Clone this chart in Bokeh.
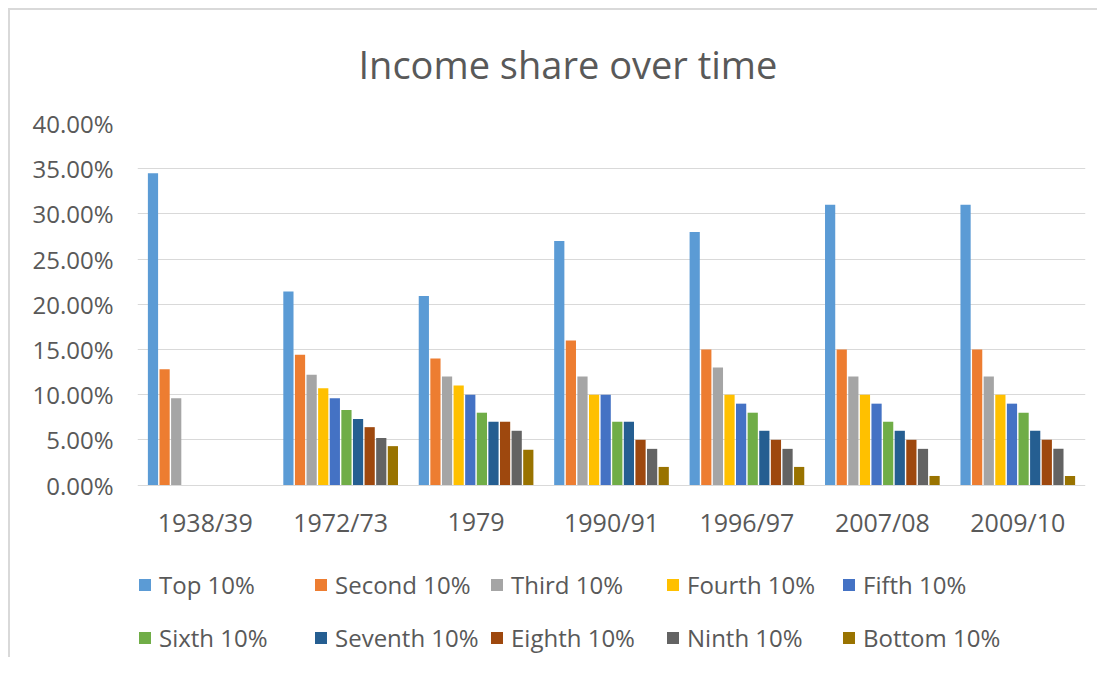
import math
from bokeh.plotting import figure
from bokeh.models import (FactorRange, Range1d, ColumnDataSource, NumeralTickFormatter,
                          FixedTicker, Legend, LegendItem, Title)
from bokeh.core.properties import value
from bokeh.transform import dodge
from bokeh.embed import file_html
from bokeh.resources import INLINE

# ---- data (percent of income) ----
periods = ["1938/39", "1972/73", "1979", "1990/91", "1996/97", "2007/08", "2009/10"]
series_names = ["Top 10%", "Second 10%", "Third 10%", "Fourth 10%", "Fifth 10%",
                "Sixth 10%", "Seventh 10%", "Eighth 10%", "Ninth 10%", "Bottom 10%"]
top_10     = [34.5, 21.4, 20.9, 27.0, 28.0, 31.0, 31.0]
second_10  = [12.8, 14.4, 14.0, 16.0, 15.0, 15.0, 15.0]
third_10   = [9.6, 12.2, 12.0, 12.0, 13.0, 12.0, 12.0]
fourth_10  = [None, 10.7, 11.0, 10.0, 10.0, 10.0, 10.0]
fifth_10   = [None, 9.6, 10.0, 10.0, 9.0, 9.0, 9.0]
sixth_10   = [None, 8.3, 8.0, 7.0, 8.0, 7.0, 8.0]
seventh_10 = [None, 7.3, 7.0, 7.0, 6.0, 6.0, 6.0]
eighth_10  = [None, 6.4, 7.0, 5.0, 5.0, 5.0, 5.0]
ninth_10   = [None, 5.2, 6.0, 4.0, 4.0, 4.0, 4.0]
bottom_10  = [None, 4.3, 3.9, 2.0, 2.0, 1.0, 1.0]
y_ticks = [0.0, 0.05, 0.10, 0.15, 0.20, 0.25, 0.30, 0.35, 0.40]

colors = ["#5B9BD5", "#ED7D31", "#A5A5A5", "#FFC000", "#4472C4",
          "#70AD47", "#255E91", "#9E480E", "#636363", "#997300"]

all_series = [top_10, second_10, third_10, fourth_10, fifth_10,
              sixth_10, seventh_10, eighth_10, ninth_10, bottom_10]

data = {"period": periods}
keys = []
for i, s in enumerate(all_series):
    k = "s%d" % i
    keys.append(k)
    data[k] = [float("nan") if v is None else v / 100.0 for v in s]
src = ColumnDataSource(data)

FONT = "Open Sans"
TXT = "#595959"

# layout (pixels): value axis spans 361.5 px for 0..40 %, frame extends below
# the zero line to hold category labels and the legend rows
Y_MAX = 0.40
AXIS_PX = 361.5
BELOW_PX = 172.5
ppu = AXIS_PX / Y_MAX
y_start = -BELOW_PX / ppu
label_y = -36.5 / ppu

p = figure(x_range=FactorRange(factors=periods), y_range=Range1d(y_start, Y_MAX),
           frame_width=948, frame_height=int(AXIS_PX + BELOW_PX),
           output_backend="svg", toolbar_location=None, x_axis_location=None,
           min_border_left=137, min_border_right=12, min_border_top=123,
           min_border_bottom=0)
p.styles = {"box-shadow": "inset 8px 8px 0 0 #ffffff, inset 10px 10px 0 0 #d9d9d9"}
p.border_fill_alpha = 0
p.background_fill_alpha = 0
p.outline_line_color = None

slot = 0.0857
bar_w = slot * 0.88
renderers = []
for i, k in enumerate(keys):
    off = (i - 4.5) * slot
    r = p.vbar(x=dodge("period", off, range=p.x_range), top=k, bottom=0, width=bar_w,
               source=src, fill_color=colors[i], line_color=None)
    renderers.append(r)

# category labels, drawn under each group
lab_src = ColumnDataSource(dict(period=periods, y=[label_y] * len(periods)))
p.text(x="period", y="y", text="period", source=lab_src,
       text_font=value(FONT), text_font_size="25px", text_color=TXT,
       text_align="center", text_baseline="middle")

p.add_layout(Title(text="Income share over time", text_font=FONT,
                   text_font_size="38px", text_font_style="normal",
                   text_color=TXT, align="left", offset=221, standoff=67), "above")

p.yaxis.ticker = FixedTicker(ticks=y_ticks)
p.yaxis.formatter = NumeralTickFormatter(format="0.00%")
ax = p.yaxis[0]
ax.axis_line_color = None
ax.major_tick_line_color = None
ax.minor_tick_line_color = None
ax.major_label_text_font = FONT
ax.major_label_text_color = TXT
ax.major_label_text_font_size = "24px"
ax.major_label_standoff = 18
p.xgrid.grid_line_color = None
p.ygrid.grid_line_color = "#d9d9d9"
p.ygrid.grid_line_width = 1

# two legend rows (5 entries each), bottoms measured up from the frame bottom
legend_rows = [(0, 5, 55.5), (5, 10, 2.5)]
for start, stop, bottom_off in legend_rows:
    leg = Legend(items=[LegendItem(label=series_names[i], renderers=[renderers[i]])
                        for i in range(start, stop)],
                 orientation="horizontal", location=(0, bottom_off),
                 padding=0, margin=0, spacing=0,
                 border_line_color=None, background_fill_alpha=0,
                 glyph_width=15, glyph_height=15, label_standoff=7,
                 label_width=154, label_height=34, label_text_font=FONT,
                 label_text_font_size="24px", label_text_color=TXT)
    p.add_layout(leg, "center")

open("out.html", "w").write(file_html(p, INLINE))
